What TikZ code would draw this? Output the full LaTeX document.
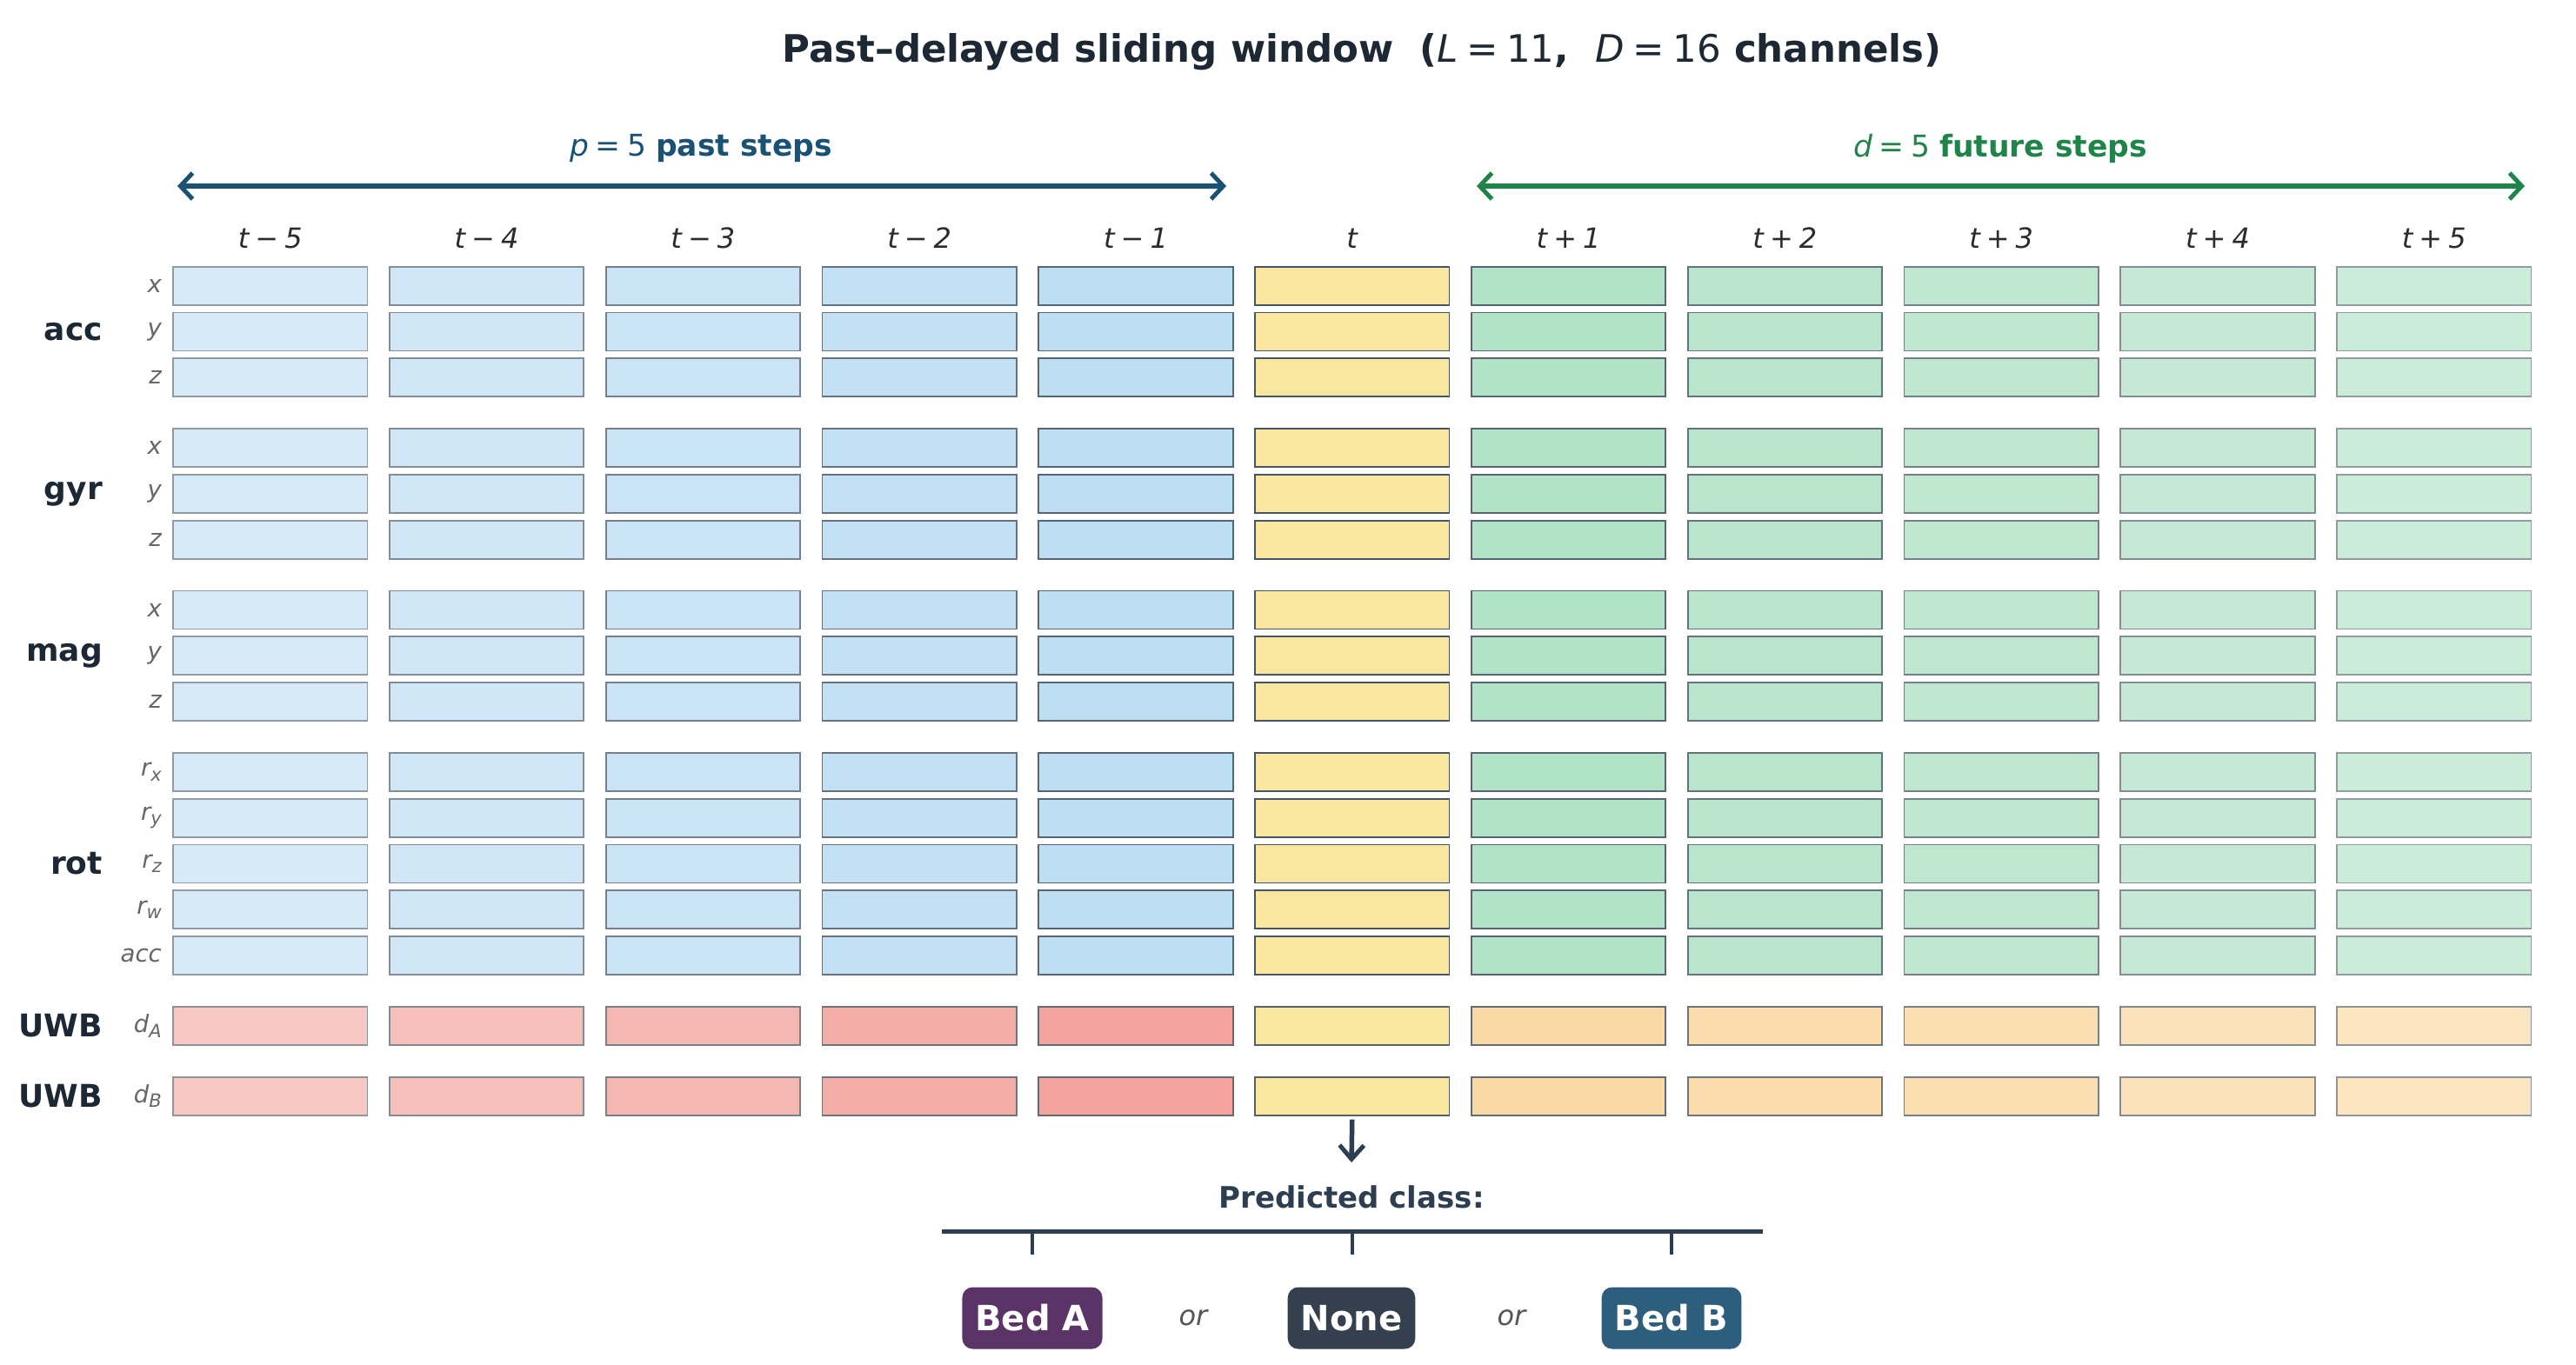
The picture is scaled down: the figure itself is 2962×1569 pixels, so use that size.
\documentclass[tikz,border=0pt]{standalone}
\usepackage{fontspec}
\setmainfont{DejaVu Sans}
\usetikzlibrary{arrows.meta}
\definecolor{pastblue}{HTML}{5DADE2}
\definecolor{futgreen}{HTML}{27AE60}
\definecolor{tyellow}{HTML}{F4D03F}
\definecolor{pastred}{HTML}{E74C3C}
\definecolor{futorange}{HTML}{F39C12}
\definecolor{edgec}{HTML}{2C3E50}
\definecolor{titlec}{HTML}{1C2833}
\definecolor{pastc}{HTML}{1A5276}
\definecolor{futc}{HTML}{1E8449}
\definecolor{headc}{HTML}{2B2B2B}
\definecolor{rowc}{HTML}{666666}
\definecolor{orc}{HTML}{555555}
\definecolor{bedac}{HTML}{5B3467}
\definecolor{nonec}{HTML}{34404D}
\definecolor{bedbc}{HTML}{2E5E7E}
\newcommand{\fs}[1]{\fontsize{#1}{#1}\selectfont}
\newcommand{\rsub}[1]{\raisebox{-0.2em}{\fs{21}\itshape #1}}
\newcommand{\opsp}{\hspace{0.22em}}
\tikzset{
  cellbox/.style={rectangle, minimum width=223.5pt, minimum height=44pt, inner sep=0pt, line width=1.8pt},
  rowlab/.style={anchor=east, inner sep=0pt, text=rowc, font=\fs{27.5}\itshape},
  grplab/.style={anchor=east, inner sep=0pt, text=titlec, font=\fs{36}\bfseries},
  colhead/.style={inner sep=0pt, text=headc, font=\fs{32}},
  spanarrow/.style={line width=5.5pt, {Straight Barb[length=14pt,width=30pt,line width=5pt]}-{Straight Barb[length=14pt,width=30pt,line width=5pt]}},
  classbox/.style={rectangle, rounded corners=12pt, minimum height=71pt, inner xsep=15pt, text=white, font=\fs{40}\bfseries},
  ortext/.style={inner sep=0pt, text=orc, font=\fs{32}\itshape}
}
\begin{document}
\begin{tikzpicture}[x=1pt,y=-1pt]
\useasboundingbox (0,0) rectangle (2962,1569);
% title
\node[text=titlec, font=\fs{43.5}] (title) at (1566,60)
  {{\bfseries Past–delayed sliding window\ \ (}{\itshape L}\opsp=\opsp11{\bfseries ,\ \ }{\itshape D}\opsp=\opsp16{\bfseries\ channels)}};
% span arrows
\coordinate (pastL) at (204,214);
\coordinate (pastR) at (1410,214);
\coordinate (futL) at (1698,214);
\coordinate (futR) at (2903,214);
\draw[spanarrow, pastc] (pastL) -- (pastR);
\draw[spanarrow, futc] (futL) -- (futR);
\node[text=pastc, font=\fs{34.5}] (pastlab) at (806,171) {{\itshape p}\opsp=\opsp5 {\bfseries past steps}};
\node[text=futc, font=\fs{34.5}] (futlab) at (2300,171) {{\itshape d}\opsp=\opsp5 {\bfseries future steps}};
% column headers
\foreach \j/\lab in {0/{t\opsp−\opsp5},1/{t\opsp−\opsp4},2/{t\opsp−\opsp3},3/{t\opsp−\opsp2},4/{t\opsp−\opsp1},5/{t},6/{t\opsp+\opsp1},7/{t\opsp+\opsp2},8/{t\opsp+\opsp3},9/{t\opsp+\opsp4},10/{t\opsp+\opsp5}} {
  \pgfmathsetmacro\xc{310.75+248.8*\j}
  \node[colhead] (h\j) at (\xc,274) {\itshape\lab};
}
% cells
\foreach \j in {0,...,10} {
  \pgfmathsetmacro\xc{310.75+248.8*\j}
  \ifnum\j<5
    \pgfmathsetmacro\pa{25+3.75*\j}
    \pgfmathsetmacro\pb{30+5*\j}
    \pgfmathsetmacro\pe{52+7*\j}
    \colorlet{imuc}{pastblue!\pa!white}
    \colorlet{uwbc}{pastred!\pb!white}
  \else\ifnum\j=5
    \def\pe{88}
    \colorlet{imuc}{tyellow!50!white}
    \colorlet{uwbc}{tyellow!50!white}
  \else
    \pgfmathsetmacro\pa{35-2.75*(\j-6)}
    \pgfmathsetmacro\pb{38-3*(\j-6)}
    \pgfmathsetmacro\pe{80-7*(\j-6)}
    \colorlet{imuc}{futgreen!\pa!white}
    \colorlet{uwbc}{futorange!\pb!white}
  \fi\fi
  \colorlet{ec}{edgec!\pe!white}
  \foreach \r/\yc in {0/328.7,1/381.5,2/434.3,3/515.1,4/567.9,5/620.7,6/701.5,7/754.3,8/807.1,9/887.9,10/940.7,11/993.5,12/1046.3,13/1099.1} {
    \node[cellbox, fill=imuc, draw=ec] (c\r-\j) at (\xc,\yc) {};
  }
  \foreach \r/\yc in {14/1179.9,15/1260.7} {
    \node[cellbox, fill=uwbc, draw=ec!75!gray] (c\r-\j) at (\xc,\yc) {};
  }
}
% row labels
\foreach \r/\yc/\lab in {0/328.7/x,1/381.5/y,2/434.3/z,3/515.1/x,4/567.9/y,5/620.7/z,6/701.5/x,7/754.3/y,8/807.1/z,9/887.9/{r\rsub{x}},10/940.7/{r\rsub{y}},11/993.5/{r\rsub{z}},12/1046.3/{r\rsub{w}},13/1099.1/acc,14/1179.9/{d\rsub{A}},15/1260.7/{d\rsub{B}}} {
  \node[rowlab] (rl\r) at (186,\yc) {\lab};
}
% group labels
\node[grplab] (gacc) at (118,381.5) {acc};
\node[grplab] (ggyr) at (118,567.9) {gyr};
\node[grplab] (gmag) at (118,754.3) {mag};
\node[grplab] (grot) at (118,993.5) {rot};
\node[grplab] (guwba) at (118,1179.9) {UWB};
\node[grplab] (guwbb) at (118,1260.7) {UWB};
% prediction
\coordinate (predtip) at (1554,1337);
\draw[edgec, line width=5.5pt, -{Straight Barb[length=16pt,width=28pt,line width=5pt]}] (c15-5.south) ++(0,4) -- (predtip);
\node[text=edgec, font=\fs{34}\bfseries] (pred) at (1554,1377) {Predicted class:};
\coordinate (brL) at (1083,1416);
\coordinate (brR) at (2027,1416);
\draw[edgec, line width=5pt] (brL) -- (brR);
\foreach \n/\x in {a/1187,n/1555,b/1922} {
  \coordinate (tk\n) at (\x,1416);
  \coordinate (tke\n) at (\x,1443);
  \draw[edgec, line width=4.5pt] (tk\n) -- (tke\n);
}
\node[classbox, fill=bedac] (beda) at (1187,1516) {Bed A};
\node[classbox, fill=nonec] (none) at (1554,1516) {None};
\node[classbox, fill=bedbc] (bedb) at (1922,1516) {Bed B};
\node[ortext] (or1) at (1372,1516) {or};
\node[ortext] (or2) at (1738,1516) {or};
\end{tikzpicture}
\end{document}
